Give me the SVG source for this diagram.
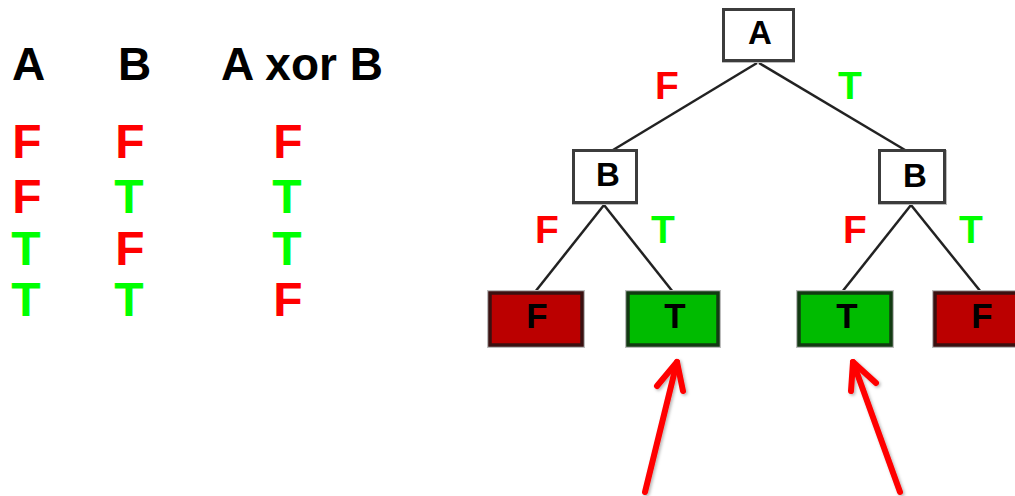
<svg xmlns="http://www.w3.org/2000/svg" width="1015" height="496" viewBox="0 0 1015 496">
<defs>
<style>
.t{font-family:"Liberation Sans",Arial,sans-serif;font-weight:bold;}
.hd{font-size:46px;fill:#000;}
.cell{font-size:48px;text-anchor:middle;}
.f{fill:#ff0000;}
.g{fill:#00ff00;}
.lbl{font-size:39px;text-anchor:middle;}
.nl{font-size:33px;text-anchor:middle;fill:#000;}
.ll{font-size:35px;text-anchor:middle;fill:#000;}
.box{fill:#fff;stroke:#3c3c3c;stroke-width:3;}
.halo{fill:none;stroke:#bdbdbd;stroke-width:2;}
.leafR{fill:#bb0000;stroke:#3a1010;stroke-width:3.5;}
.leafG{fill:#00bb00;stroke:#123a12;stroke-width:3.5;}
.edge{stroke:#222;stroke-width:2.5;fill:none;}
.arrow{stroke:#ff0000;stroke-width:6;fill:none;stroke-linecap:round;stroke-linejoin:round;}
</style>
<filter id="sh" x="-20%" y="-20%" width="140%" height="140%">
<feDropShadow dx="1.5" dy="1.5" stdDeviation="1.5" flood-color="#000" flood-opacity="0.3"/>
</filter>
</defs>
<rect width="1015" height="496" fill="#fff"/>

<g id="truth-table" class="t">
<text class="hd" x="12" y="80">A</text>
<text class="hd" x="118" y="80">B</text>
<text class="hd" x="221" y="80">A xor B</text>
<text class="cell f" x="27" y="158">F</text>
<text class="cell f" x="130" y="158">F</text>
<text class="cell f" x="288" y="158">F</text>
<text class="cell f" x="27" y="213">F</text>
<text class="cell g" x="129" y="213">T</text>
<text class="cell g" x="287" y="213">T</text>
<text class="cell g" x="26" y="265">T</text>
<text class="cell f" x="130" y="265">F</text>
<text class="cell g" x="287" y="265">T</text>
<text class="cell g" x="26" y="316">T</text>
<text class="cell g" x="129" y="316">T</text>
<text class="cell f" x="288" y="316">F</text>
</g>

<g id="connectors">
<line class="edge" x1="757" y1="63" x2="613" y2="150"/>
<line class="edge" x1="759" y1="63" x2="905" y2="150"/>
<line class="edge" x1="604" y1="205" x2="535" y2="292"/>
<line class="edge" x1="604" y1="205" x2="673" y2="292"/>
<line class="edge" x1="911" y1="205" x2="842" y2="292"/>
<line class="edge" x1="911" y1="205" x2="981" y2="292"/>
</g>

<g id="edge-labels" class="t">
<text class="lbl f" x="667" y="99">F</text>
<text class="lbl g" x="850" y="99">T</text>
<text class="lbl f" x="547" y="243">F</text>
<text class="lbl g" x="663" y="243">T</text>
<text class="lbl f" x="855" y="243">F</text>
<text class="lbl g" x="971" y="243">T</text>
</g>

<g id="node-A" class="t">
<rect class="halo" x="723" y="10" width="71" height="52"/>
<rect class="box" x="723.5" y="9.5" width="70" height="51"/>
<text class="nl" x="760" y="44">A</text>
</g>
<g id="node-B1" class="t">
<rect class="halo" x="573" y="151" width="64" height="53"/>
<rect class="box" x="573.5" y="150.5" width="63" height="52"/>
<text class="nl" x="608" y="186">B</text>
</g>
<g id="node-B2" class="t">
<rect class="halo" x="879" y="151" width="67" height="53"/>
<rect class="box" x="879.5" y="150.5" width="65" height="52"/>
<text class="nl" x="915" y="187">B</text>
</g>

<g id="leaf-FF" class="t">
<rect class="halo" x="488" y="291" width="96" height="56"/>
<rect class="leafR" x="490" y="293" width="92" height="52"/>
<text class="ll" x="537" y="328">F</text>
</g>
<g id="leaf-FT" class="t">
<rect class="halo" x="626" y="291" width="94" height="56"/>
<rect class="leafG" x="628" y="293" width="90" height="52"/>
<text class="ll" x="675" y="328">T</text>
</g>
<g id="leaf-TF" class="t">
<rect class="halo" x="797" y="291" width="96" height="56"/>
<rect class="leafG" x="799" y="293" width="92" height="52"/>
<text class="ll" x="847" y="328">T</text>
</g>
<g id="leaf-TT" class="t">
<rect class="halo" x="933" y="291" width="96" height="56"/>
<rect class="leafR" x="935" y="293" width="92" height="52"/>
<text class="ll" x="982" y="328">F</text>
</g>

<g id="arrows" filter="url(#sh)">
<path class="arrow" d="M645 492 L677 362"/>
<path class="arrow" d="M657 386 L677 362 L683 391"/>
<path class="arrow" d="M900 492 L853 362"/>
<path class="arrow" d="M851 391 L853 362 L876 383"/>
</g>
</svg>
